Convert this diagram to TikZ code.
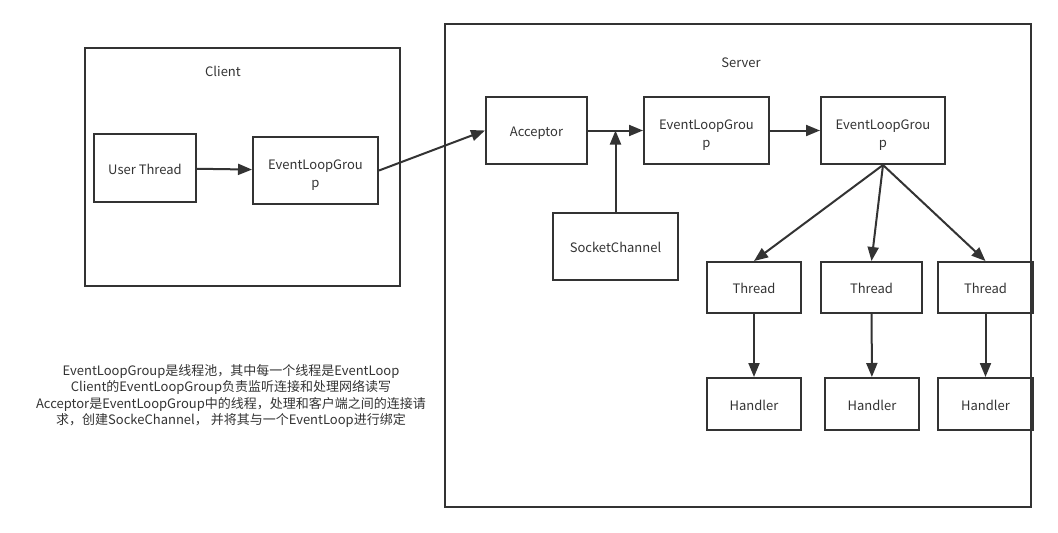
\documentclass[tikz,border=0pt]{standalone}
\usepackage{fontspec}
\setmainfont{Noto Sans CJK SC}
\usetikzlibrary{arrows.meta}
\definecolor{ink}{HTML}{333333}
\tikzstyle{box} = [draw=ink, line width=2pt, text=ink, align=center, font=\fontsize{13}{18}\selectfont, inner sep=0pt, text height=12pt, text depth=0pt]
\tikzstyle{box2} = [box, text height=33pt]
\tikzstyle{link} = [draw=ink, line width=2pt, -{Triangle[length=14pt,width=11pt]}]

\begin{document}
\begin{tikzpicture}[x=1pt, y=-1pt]
    \useasboundingbox (0,0) rectangle (1058,533);
    % outer frames
    \node[box, minimum width=315pt, minimum height=238pt] (C) at (242.5,167) {};
    \node[box, minimum width=586pt, minimum height=483pt] (S) at (738,265.5) {};
    \node[text=ink, font=\fontsize{13}{18}\selectfont] (CL) at (223,71) {Client};
    \node[text=ink, font=\fontsize{13}{18}\selectfont] (SL) at (741,63) {Server};
    % client side
    \node[box, minimum width=102pt, minimum height=68pt] (UT) at (145,168) {User Thread};
    \node[box2, minimum width=125pt, minimum height=67pt] (CG) at (315.5,170.5) {EventLoopGrou\\p};
    % server side
    \node[box, minimum width=101pt, minimum height=67pt] (AC) at (536.5,130.5) {Acceptor};
    \node[box2, minimum width=125pt, minimum height=67pt] (G1) at (706.5,130.5) {EventLoopGrou\\p};
    \node[box2, minimum width=124pt, minimum height=67pt] (G2) at (883,130.5) {EventLoopGrou\\p};
    \node[box, minimum width=125pt, minimum height=67pt] (SC) at (615.5,246.5) {SocketChannel};
    \node[box, minimum width=94pt, minimum height=51pt] (T1) at (754,287.5) {Thread};
    \node[box, minimum width=101pt, minimum height=51pt] (T2) at (871.5,287.5) {Thread};
    \node[box, minimum width=95pt, minimum height=51pt] (T3) at (985.5,287.5) {Thread};
    \node[box, minimum width=94pt, minimum height=52pt] (H1) at (754,404) {Handler};
    \node[box, minimum width=94pt, minimum height=52pt] (H2) at (872,404) {Handler};
    \node[box, minimum width=95pt, minimum height=52pt] (H3) at (985.5,404) {Handler};
    \coordinate (J) at (SC.north |- AC.east);
    % note
    \node[text=ink, align=center, font=\fontsize{13}{16.5}\selectfont] (N) at (231,396) {EventLoopGroup是线程池，其中每一个线程是EventLoop\\Client的EventLoopGroup负责监听连接和处理网络读写\\Acceptor是EventLoopGroup中的线程，处理和客户端之间的连接请\\求，创建SockeChannel， 并将其与一个EventLoop进行绑定};
    \draw[link] (UT) -- (CG);
    \draw[link] (CG.east) -- (AC.west);
    \draw[link] (AC) -- (G1);
    \draw[link] (SC.north) -- (J);
    \draw[link] (G1) -- (G2);
    \draw[link] (G2.south) -- (T1.north);
    \draw[link] (G2.south) -- (T2.north);
    \draw[link] (G2.south) -- (T3.north);
    \draw[link] (T1) -- (H1);
    \draw[link] (T2) -- (H2);
    \draw[link] (T3) -- (H3);
  \end{tikzpicture}
\end{document}
